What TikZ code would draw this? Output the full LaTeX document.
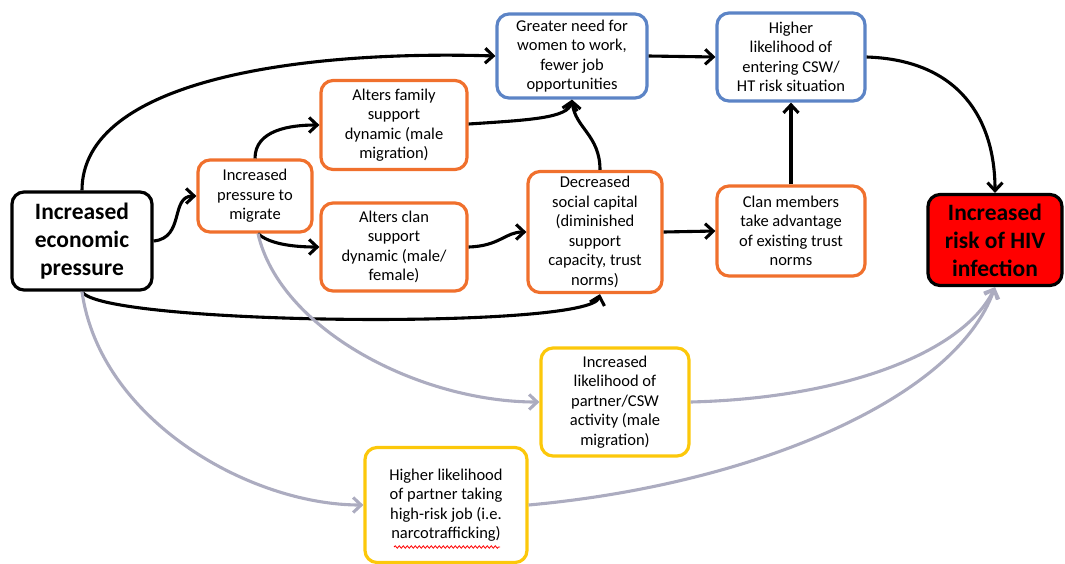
\documentclass[tikz,border=0pt]{standalone}
\usepackage{fontspec}
\setmainfont{Carlito}
\usetikzlibrary{arrows.meta,decorations.pathmorphing}
\definecolor{borange}{RGB}{240,112,45}
\definecolor{bblue}{RGB}{92,132,198}
\definecolor{byellow}{RGB}{252,200,10}
\definecolor{agray}{RGB}{172,172,192}
\begin{document}
\begin{tikzpicture}[x=1pt,y=-1pt,
  box/.style={draw,line width=3.2pt,rounded corners=12pt,align=center,fill=white,
    inner sep=0pt,font=\fontsize{16.5}{19.5}\selectfont},
  obox/.style={box,draw=borange},
  bbox/.style={box,draw=bblue},
  ybox/.style={box,draw=byellow},
  kbox/.style={box,draw=black,font=\fontsize{23.5}{28}\selectfont\bfseries},
  arr/.style={line width=3.1pt,-{Straight Barb[length=8pt,width=15pt,line width=3.1pt]}},
  garr/.style={arr,draw=agray}]
\useasboundingbox (0,0) rectangle (1065,563);

% nodes
\node[kbox,minimum width=140pt,minimum height=98pt] (econ) at (82,241) {Increased\\economic\\pressure};
\node[obox,minimum width=114pt,minimum height=72pt] (mig) at (255,196) {Increased\\pressure to\\migrate};
\node[obox,minimum width=146pt,minimum height=89pt] (fam) at (394,125) {Alters family\\support\\dynamic (male\\migration)};
\node[obox,minimum width=146pt,minimum height=88pt] (clan) at (394,247) {Alters clan\\support\\dynamic (male/\\female)};
\node[bbox,minimum width=150pt,minimum height=84pt] (need) at (572,56) {Greater need for\\women to work,\\fewer job\\opportunities};
\node[bbox,minimum width=148pt,minimum height=88pt] (high) at (791,57) {Higher\\likelihood of\\entering CSW/\\HT risk situation};
\node[obox,minimum width=134pt,minimum height=121pt] (dec) at (595,232) {Decreased\\social capital\\(diminished\\support\\capacity, trust\\norms)};
\node[obox,minimum width=148pt,minimum height=90pt] (cm) at (791,231) {Clan members\\take advantage\\of existing trust\\norms};
\node[kbox,fill=red,minimum width=134pt,minimum height=91pt] (hiv) at (995,240) {Increased\\risk of HIV\\infection};
\node[ybox,minimum width=148pt,minimum height=108pt] (csw) at (615,402) {Increased\\likelihood of\\partner/CSW\\activity (male\\migration)};
\node[ybox,minimum width=162pt,minimum height=115pt] (job) at (446,505) {Higher likelihood\\of partner taking\\high-risk job (i.e.\\narcotrafficking)};
% spell-check squiggle
\draw[red,line width=0.8pt,decorate,decoration={snake,amplitude=1.2pt,segment length=4pt}]
  ([xshift=-52pt,yshift=-42pt]job.center) -- ([xshift=54pt,yshift=-42pt]job.center);

% black connectors
\draw[arr] (econ.north) .. controls (82,80) and (300,50) .. (need.west);
\draw[arr] (econ.east) .. controls (185,238) and (170,196) .. (mig.west);
\draw[arr] (mig.north) .. controls (255,130) and (290,125) .. (fam.west);
\draw[arr] ([xshift=3pt]mig.south) .. controls (268,243) and (290,247) .. (clan.west);
\draw[arr] ([yshift=1pt]fam.east) .. controls (530,120) and (568,118) .. (need.south);
\draw[arr] ([xshift=5pt]dec.north) .. controls (600,135) and (575,128) .. (need.south);
\draw[arr] (clan.east) .. controls (500,246) and (505,232) .. (dec.west);
\draw[arr] (econ.south) .. controls (100,325) and (590,330) .. ([xshift=5pt]dec.south);
\draw[arr] (dec.east) -- (cm.west);
\draw[arr] (cm.north) -- (high.south);
\draw[arr] (need.east) -- (high.west);
\draw[arr] (high.east) .. controls (960,60) and (995,120) .. (hiv.north);

% gray connectors
\draw[garr] ([xshift=3pt]mig.south) .. controls (280,330) and (420,402) .. (csw.west);
\draw[garr] (econ.south) .. controls (100,420) and (250,505) .. (job.west);
\draw[garr] (csw.east) .. controls (850,398) and (965,350) .. (hiv.south);
\draw[garr] (job.east) .. controls (750,485) and (955,400) .. (hiv.south);
\end{tikzpicture}
\end{document}
